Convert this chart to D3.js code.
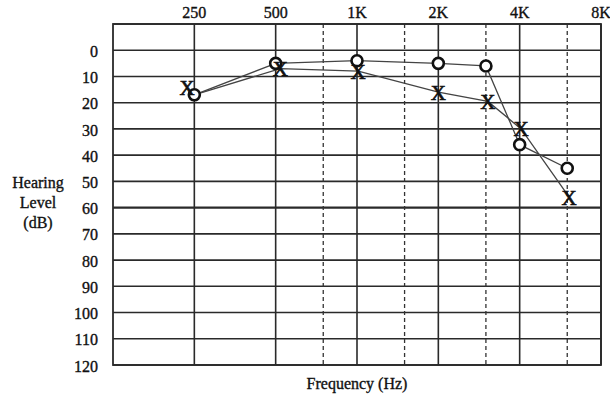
<!DOCTYPE html>
<html>
<head>
<meta charset="utf-8">
<script src="https://cdn.jsdelivr.net/npm/d3@7"></script>
<style>
  body { margin: 0; background: #fff; }
  svg { display: block; font-family: "Liberation Serif", "DejaVu Serif", serif; }
</style>
</head>
<body>
<svg id="chart" width="610" height="398"></svg>
<script>
// Data
const freqTicks = [250, 500, 1000, 2000, 4000, 8000]
const freqLabels = ["250", "500", "1K", "2K", "4K", "8K"]
const halfOctaves = [750, 1500, 3000, 6000]
const dbTicks = [0, 10, 20, 30, 40, 50, 60, 70, 80, 90, 100, 110, 120]

// right ear (O)
const rightFreqs = [250, 500, 1000, 2000, 3000, 4000, 6000]
const rightDb = [17, 5, 4, 5, 6, 36, 45]

// left ear (X) markers
const leftFreqs = [235, 520, 1010, 2000, 3050, 4050, 6100]
const leftDb = [14, 7, 8, 16, 19.5, 30, 56]
// left ear line starts from the shared 250 Hz point
const leftLineFreqs = [250, 520, 1010, 2000, 3050, 4050, 6100]
const leftLineDb = [17, 7, 8, 16, 19.5, 30, 56]

const svg = d3.select("#chart")
const margin = {top: 24, right: 9, bottom: 33, left: 113}
const width = 610 - margin.left - margin.right
const height = 398 - margin.top - margin.bottom

const x = d3.scaleLog().base(2).domain([125, 8000]).range([0, width])
const y = d3.scaleLinear().domain([-10, 120]).range([0, height])

const g = svg.append("g").attr("transform", `translate(${margin.left},${margin.top})`)

// horizontal grid
g.selectAll(".hline")
    .data([-10].concat(dbTicks))
    .enter().append("line")
    .attr("x1", 0).attr("x2", width)
    .attr("y1", d => y(d)).attr("y2", d => y(d))
    .attr("stroke", "#2a2a2a")
    .attr("stroke-width", d => d == 60 ? 2.2 : 1.6)

// octave lines
g.selectAll(".vline")
    .data(freqTicks)
    .enter().append("line")
    .attr("x1", d => x(d)).attr("x2", d => x(d))
    .attr("y1", 0).attr("y2", height)
    .attr("stroke", "#2a2a2a")
    .attr("stroke-width", 1.6)

// half-octave dashed lines
g.selectAll(".dline")
    .data(halfOctaves)
    .enter().append("line")
    .attr("x1", d => x(d)).attr("x2", d => x(d))
    .attr("y1", 0).attr("y2", height)
    .attr("stroke", "#333")
    .attr("stroke-width", 1.3)
    .attr("stroke-dasharray", "4,3")

// frame
g.append("rect")
    .attr("width", width).attr("height", height)
    .attr("fill", "none").attr("stroke", "#2a2a2a").attr("stroke-width", 1.8)

// text style helper
function label(sel) {
    return sel.attr("font-size", 16)
        .attr("fill", "#111")
        .attr("stroke", "#111")
        .attr("stroke-width", 0.35)
}

// top frequency labels
label(g.selectAll(".flabel")
    .data(freqTicks)
    .enter().append("text")
    .attr("x", d => x(d))
    .attr("y", -6)
    .attr("text-anchor", "middle"))
    .text((d, i) => freqLabels[i])

// left dB labels
label(g.selectAll(".dblabel")
    .data(dbTicks)
    .enter().append("text")
    .attr("x", -15)
    .attr("y", d => y(d) + 1)
    .attr("dy", "0.35em")
    .attr("text-anchor", "end"))
    .text(d => d)

// axis titles
const yTitle = label(svg.append("text")
    .attr("x", 38).attr("y", 188)
    .attr("text-anchor", "middle"))
;["Hearing", "Level", "(dB)"].forEach((t, i) => {
    yTitle.append("tspan").attr("x", 38).attr("dy", i == 0 ? 0 : 20).text(t)
})

label(svg.append("text")
    .attr("x", margin.left + x(1000))
    .attr("y", 389)
    .attr("text-anchor", "middle"))
    .text("Frequency (Hz)")

// series lines
const line = d3.line().x(d => x(d[0])).y(d => y(d[1]))

g.append("path")
    .datum(rightFreqs.map((f, i) => [f, rightDb[i]]))
    .attr("d", line)
    .attr("fill", "none").attr("stroke", "#444").attr("stroke-width", 1.3)

g.append("path")
    .datum(leftLineFreqs.map((f, i) => [f, leftLineDb[i]]))
    .attr("d", line)
    .attr("fill", "none").attr("stroke", "#444").attr("stroke-width", 1.3)

// O markers
g.selectAll(".omark")
    .data(rightFreqs.map((f, i) => [f, rightDb[i]]))
    .enter().append("circle")
    .attr("cx", d => x(d[0])).attr("cy", d => y(d[1]))
    .attr("r", 5.5)
    .attr("fill", "#fff")
    .attr("stroke", "#111")
    .attr("stroke-width", 2.6)

// X markers
g.selectAll(".xmark")
    .data(leftFreqs.map((f, i) => [f, leftDb[i]]))
    .enter().append("text")
    .attr("x", d => x(d[0])).attr("y", d => y(d[1]))
    .attr("dy", "0.36em")
    .attr("text-anchor", "middle")
    .attr("font-size", 21)
    .attr("fill", "#111")
    .attr("stroke", "#111")
    .attr("stroke-width", 0.7)
    .text("X")
</script>
</body>
</html>
